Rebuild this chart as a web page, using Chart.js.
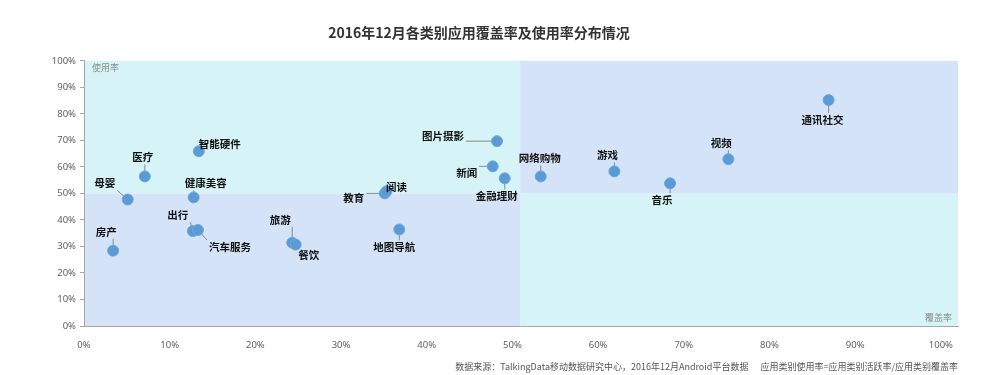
<!DOCTYPE html>
<html lang="zh">
<head>
    <meta charset="UTF-8">
    <title>2016年12月各类别应用覆盖率及使用率分布情况</title>
    <script src="https://cdn.jsdelivr.net/npm/chart.js"></script>
    <style>
        body { margin: 0; background: #fff; }
        .wrap { width: 1001px; height: 375px; }
    </style>
</head>
<body>
    <div class="wrap"><canvas id="appChart"></canvas></div>

    <script>
        // 应用类别
        const categories = ['房产', '母婴', '医疗', '智能硬件', '健康美容', '出行', '汽车服务', '旅游', '餐饮', '教育',
            '阅读', '地图导航', '图片摄影', '新闻', '金融理财', '网络购物', '游戏', '音乐', '视频', '通讯社交'];
        // 覆盖率 (x)
        const coverage = [0.034, 0.051, 0.071, 0.134, 0.128, 0.127, 0.133, 0.243, 0.247, 0.351,
            0.353, 0.368, 0.482, 0.477, 0.491, 0.533, 0.619, 0.684, 0.752, 0.869];
        // 使用率 (y)
        const usage = [0.284, 0.477, 0.564, 0.659, 0.485, 0.358, 0.362, 0.314, 0.307, 0.500,
            0.508, 0.364, 0.697, 0.602, 0.557, 0.564, 0.583, 0.538, 0.629, 0.852];
        // 象限分界
        const splitX = 0.509;
        const splitY = 0.5;

        // label offsets from point (px)
        const labelOffsets = [[-7, -19], [-23, -16], [-2, -19], [21, -7], [12, -14], [-15, -16], [32, 17], [-12, -23], [13, 10], [-31, 5],
            [10, -4], [-5, 18], [-54, -5], [-26, 7], [-8, 18], [-1, -18], [-7, -16], [-8, 17], [-7, -16], [-6, 20]];

        const labelFont = 'bold 10.5px "Noto Sans CJK SC", sans-serif';

        const quadrantPlugin = {
            id: 'quadrants',
            beforeDraw(chart) {
                const { ctx, chartArea: a, scales } = chart;
                const mx = scales.x.getPixelForValue(splitX);
                const my = scales.y.getPixelForValue(splitY);
                ctx.save();
                ctx.fillStyle = '#d6f4f7';
                ctx.fillRect(a.left, a.top, mx - a.left, my - a.top);
                ctx.fillRect(mx, my, a.right - mx, a.bottom - my);
                ctx.fillStyle = '#d4e3f8';
                ctx.fillRect(mx, a.top, a.right - mx, my - a.top);
                ctx.fillRect(a.left, my, mx - a.left, a.bottom - my);
                ctx.fillStyle = '#8c8c8c';
                ctx.font = '9px "Noto Sans CJK SC", sans-serif';
                ctx.textBaseline = 'middle';
                ctx.textAlign = 'left';
                ctx.fillText('使用率', a.left + 8, a.top + 7);
                ctx.textAlign = 'right';
                ctx.fillText('覆盖率', a.right - 6, a.bottom - 8);
                ctx.restore();
            },
            beforeDatasetsDraw(chart) {
                const { ctx } = chart;
                const meta = chart.getDatasetMeta(0);
                ctx.save();
                ctx.font = labelFont;
                ctx.strokeStyle = '#8a8a8a';
                ctx.lineWidth = 1;
                meta.data.forEach((pt, i) => {
                    const [dx, dy] = labelOffsets[i];
                    const lx = pt.x + dx, ly = pt.y + dy;
                    const hw = ctx.measureText(categories[i]).width / 2 + 2;
                    const hh = 7;
                    // nearest point on label box
                    const ex = Math.max(lx - hw, Math.min(pt.x, lx + hw));
                    const ey = Math.max(ly - hh, Math.min(pt.y, ly + hh));
                    ctx.beginPath();
                    ctx.moveTo(pt.x, pt.y);
                    ctx.lineTo(ex, ey);
                    ctx.stroke();
                });
                ctx.restore();
            },
            afterDatasetsDraw(chart) {
                const { ctx } = chart;
                const meta = chart.getDatasetMeta(0);
                ctx.save();
                ctx.font = labelFont;
                ctx.fillStyle = '#111';
                ctx.textAlign = 'center';
                ctx.textBaseline = 'middle';
                meta.data.forEach((pt, i) => {
                    const [dx, dy] = labelOffsets[i];
                    ctx.fillText(categories[i], pt.x + dx, pt.y + dy);
                });
                ctx.restore();
            },
            afterDraw(chart) {
                const { ctx } = chart;
                ctx.save();
                ctx.font = '9px "Noto Sans CJK SC", sans-serif';
                ctx.fillStyle = '#555';
                ctx.textAlign = 'right';
                ctx.textBaseline = 'middle';
                ctx.fillText('数据来源：TalkingData移动数据研究中心，2016年12月Android平台数据      应用类别使用率=应用类别活跃率/应用类别覆盖率', 958, 367);
                ctx.restore();
            }
        };

        const pct = v => Math.round(v * 100) + '%';

        const ctx = document.getElementById('appChart').getContext('2d');
        new Chart(ctx, {
            type: 'scatter',
            data: {
                datasets: [{
                    label: '应用类别',
                    data: categories.map((c, i) => ({ x: coverage[i], y: usage[i] })),
                    backgroundColor: '#5b9bd5',
                    borderColor: '#6fa8dc',
                    borderWidth: 1,
                    pointRadius: 5.5,
                    pointHoverRadius: 5.5
                }]
            },
            plugins: [quadrantPlugin],
            options: {
                responsive: true,
                maintainAspectRatio: false,
                animation: false,
                layout: { padding: { left: 0, right: 43, top: 0, bottom: 0 } },
                plugins: {
                    legend: { display: false },
                    tooltip: { enabled: false },
                    title: {
                        display: true,
                        text: '2016年12月各类别应用覆盖率及使用率分布情况',
                        color: '#333',
                        font: { family: '"Noto Sans CJK SC", sans-serif', size: 14, weight: 'bold' },
                        padding: { top: 24, bottom: 20 }
                    }
                },
                scales: {
                    x: {
                        type: 'linear',
                        min: 0,
                        max: 1.02,
                        afterFit(scale) { scale.height = 49; },
                        grid: { display: false },
                        border: { display: true, color: '#a6a6a6' },
                        ticks: {
                            stepSize: 0.1,
                            includeBounds: false,
                            color: '#606060',
                            font: { family: '"Noto Sans", sans-serif', size: 9.5 },
                            padding: 6,
                            callback: v => pct(v)
                        }
                    },
                    y: {
                        min: 0,
                        max: 1,
                        afterFit(scale) { scale.width = 84; },
                        grid: { drawOnChartArea: false, drawTicks: true, tickLength: 4, color: '#a6a6a6' },
                        border: { display: true, color: '#a6a6a6' },
                        ticks: {
                            stepSize: 0.1,
                            color: '#606060',
                            font: { family: '"Noto Sans", sans-serif', size: 9.5 },
                            padding: 4,
                            callback: v => pct(v)
                        }
                    }
                }
            }
        });
    </script>
</body>
</html>
